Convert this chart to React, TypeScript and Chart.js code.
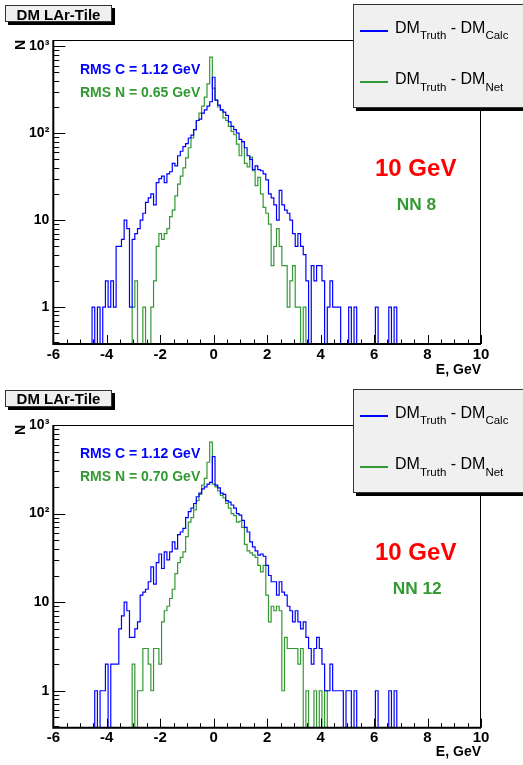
import React, { useEffect, useRef } from 'react';
import { Chart, registerables } from 'chart.js';

Chart.register(...registerables);

// ---------------- data ----------------
// Histograms: bin centres start at FIRST_BIN_CENTRE and step by BIN_WIDTH (GeV)
const FIRST_BIN_CENTRE = -4.6;
const BIN_WIDTH = 0.1;
const X_MIN = -6;
const X_MAX = 10;
const X_TICK_STEP = 2;
const Y_DECADE_LABELS = ['1', '10', '10\u00B2', '10\u00B3'];
const PANEL_TITLE = 'DM LAr-Tile';
const X_TITLE = 'E, GeV';
const Y_TITLE = 'N';
const ENERGY_LABEL = '10 GeV';
const NN_LABELS = ['NN 8', 'NN 12'];
const RMS_CALC = ['1.12', '1.12'];
const RMS_NET = ['0.65', '0.70'];

// Upper panel (NN 8): DM_Truth - DM_Calc
const calcNN8 = [
  0, 1, 0, 1, 0, 1, 2, 1, 2, 1, // -4.6 .. -3.7
  5, 5, 6, 10, 8, 1, 6, 7, 8, 10, // -3.6 .. -2.7
  12, 16, 18, 20, 15, 27, 30, 32, 27, 34, // -2.6 .. -1.7
  36, 45, 42, 55, 62, 70, 76, 88, 95, 110, // -1.6 .. -0.7
  140, 145, 170, 185, 205, 230, 440, 240, 210, 185, // -0.6 .. 0.3
  175, 160, 135, 120, 110, 100, 85, 80, 68, 55, // 0.4 .. 1.3
  50, 38, 42, 38, 37, 34, 29, 20, 18, 15, // 1.4 .. 2.3
  10, 22, 15, 13, 12, 10, 7, 5, 7, 5, // 2.4 .. 3.3
  4, 2, 0, 3, 2, 3, 3, 2, 0, 1, // 3.4 .. 4.3
  2, 1, 1, 1, 0, 0, 0, 1, 0, 1, // 4.4 .. 5.3
  0, 0, 0, 0, 0, 0, 0, 1, 0, 0, // 5.4 .. 6.3
  0, 0, 1, 0, 1, // 6.4 .. 6.8
];
// Upper panel (NN 8): DM_Truth - DM_Net
const netNN8 = [
  0, 0, 0, 0, 0, 0, 0, 0, 0, 0,
  0, 0, 0, 0, 0, 0, 1, 2, 0, 0,
  1, 0, 0, 1, 2, 5, 7, 6, 7, 8,
  11, 13, 19, 26, 32, 40, 52, 68, 88, 110,
  140, 170, 205, 260, 370, 750, 330, 240, 200, 185,
  150, 140, 120, 105, 96, 75, 55, 80, 45, 41,
  53, 37, 25, 31, 20, 14, 12, 9, 3, 5,
  8, 5, 3, 3, 1, 2, 3, 1, 1, 0,
  1, 0, 0, 0, 0, 0, 0, 0, 0, 0,
  0, 0, 0, 0, 0, 0, 0, 0, 0, 0,
  0, 0, 0, 0, 0, 0, 0, 0, 0, 0,
  0, 0, 0, 0, 0,
];
// Lower panel (NN 12): DM_Truth - DM_Calc
const calcNN12 = [
  0, 0, 1, 0, 1, 1, 2, 0, 2, 2,
  2, 5, 7, 10, 8, 4, 4, 5, 6, 12,
  13, 14, 17, 25, 16, 28, 35, 24, 37, 30,
  37, 48, 40, 58, 62, 68, 90, 105, 115, 130,
  155, 170, 190, 200, 215, 225, 440, 210, 195, 170,
  165, 140, 135, 125, 115, 100, 96, 84, 70, 62,
  48, 42, 38, 34, 35, 33, 26, 20, 17, 17,
  12, 17, 13, 12, 9, 8, 6, 8, 6, 5,
  6, 4, 3, 2, 3, 4, 3, 2, 1, 1,
  2, 1, 1, 1, 1, 0, 1, 1, 0, 1,
  0, 0, 0, 0, 0, 0, 0, 1, 0, 0,
  0, 0, 1, 0, 1,
];
// Lower panel (NN 12): DM_Truth - DM_Net
const netNN12 = [
  0, 0, 0, 0, 0, 0, 0, 0, 0, 0,
  0, 0, 0, 0, 0, 0, 2, 0, 1, 1,
  3, 3, 2, 1, 3, 3, 2, 6, 8, 9,
  11, 14, 21, 28, 32, 37, 55, 80, 90, 110,
  140, 165, 210, 250, 380, 640, 215, 200, 180, 160,
  150, 130, 115, 100, 95, 80, 82, 70, 45, 38,
  36, 34, 32, 26, 22, 26, 12, 6, 9, 8,
  9, 8, 1, 4, 3, 3, 3, 3, 2, 3,
  0, 1, 0, 0, 1, 0, 1, 0, 1, 0,
  0, 0, 0, 0, 0, 0, 0, 0, 0, 0,
  0, 0, 0, 0, 0, 0, 0, 0, 0, 0,
  0, 0, 0, 0, 0,
];

// ---------------- styles ----------------
const FONT = '"Liberation Sans", Arial, Helvetica, sans-serif';
const BLUE = '#0000ff';
const GREEN = '#339933';
const RED = '#ff0000';
const EMPTY = 1e-3; // drawn below the axis minimum so empty bins fall to the frame

function histPoints(counts: number[]) {
  const pts: { x: number; y: number }[] = [{ x: X_MIN, y: EMPTY }];
  counts.forEach((c, i) => {
    const left = FIRST_BIN_CENTRE - BIN_WIDTH / 2 + i * BIN_WIDTH;
    pts.push({ x: Math.round(left * 1000) / 1000, y: c > 0 ? c : EMPTY });
  });
  const end = FIRST_BIN_CENTRE - BIN_WIDTH / 2 + counts.length * BIN_WIDTH;
  pts.push({ x: Math.round(end * 1000) / 1000, y: EMPTY });
  pts.push({ x: X_MAX, y: EMPTY });
  return pts;
}

const frameTicks = {
  id: 'frameTicks',
  afterDatasetsDraw(chart: any) {
    const { ctx, chartArea: a } = chart;
    const xs = chart.scales.x;
    const ys = chart.scales.y;
    ctx.save();
    ctx.strokeStyle = '#000';
    ctx.lineWidth = 1;
    ctx.beginPath();
    ctx.moveTo(a.left, a.top + 0.5);
    ctx.lineTo(a.right, a.top + 0.5);
    ctx.moveTo(a.right - 0.5, a.top);
    ctx.lineTo(a.right - 0.5, a.bottom);
    for (let v = xs.min; v <= xs.max + 1e-9; v += 0.5) {
      const px = Math.round(xs.getPixelForValue(v)) + 0.5;
      const len = Math.abs(v % X_TICK_STEP) < 1e-9 ? 9 : 4.5;
      ctx.moveTo(px, a.bottom);
      ctx.lineTo(px, a.bottom - len);
    }
    const d0 = Math.floor(Math.log10(ys.min));
    const d1 = Math.ceil(Math.log10(ys.max));
    for (let d = d0; d <= d1; d++) {
      for (let k = 1; k <= 9; k++) {
        const v = k * Math.pow(10, d);
        if (v < ys.min || v > ys.max) continue;
        const py = Math.round(ys.getPixelForValue(v)) + 0.5;
        const len = k === 1 ? 12 : 6;
        ctx.moveTo(a.left, py);
        ctx.lineTo(a.left + len, py);
      }
    }
    ctx.stroke();
    ctx.lineWidth = 2;
    ctx.beginPath();
    ctx.moveTo(a.left, a.top);
    ctx.lineTo(a.left, a.bottom);
    ctx.lineTo(a.right, a.bottom);
    ctx.stroke();
    ctx.restore();
  },
};

type PanelProps = {
  top: number;
  calc: number[];
  net: number[];
  padTop: number;
  xAxisH: number;
  xTitlePad: number;
  yMin: number;
  yMax: number;
};

function HistPanel({ top, calc, net, padTop, xAxisH, xTitlePad, yMin, yMax }: PanelProps) {
  const ref = useRef<HTMLCanvasElement | null>(null);
  useEffect(() => {
    if (!ref.current) return;
    const chart = new Chart(ref.current, {
      type: 'line',
      data: {
        datasets: [
          {
            label: 'calc',
            data: histPoints(calc),
            borderColor: BLUE,
            borderWidth: 1.2,
            stepped: true,
            pointRadius: 0,
            fill: false,
          },
          {
            label: 'net',
            data: histPoints(net),
            borderColor: GREEN,
            borderWidth: 1.2,
            stepped: true,
            pointRadius: 0,
            fill: false,
          },
        ],
      },
      options: {
        animation: false,
        responsive: false,
        maintainAspectRatio: false,
        events: [],
        layout: { padding: { top: padTop, right: 42, bottom: 0, left: 0 } },
        plugins: { legend: { display: false }, tooltip: { enabled: false } },
        scales: {
          x: {
            type: 'linear',
            min: X_MIN,
            max: X_MAX,
            grid: { display: false, drawTicks: false, tickLength: 0 },
            border: { display: false },
            ticks: {
              stepSize: X_TICK_STEP,
              padding: 1.5,
              maxRotation: 0,
              autoSkip: false,
              color: '#000',
              font: { family: FONT, size: 15, weight: 'bold' },
            },
            title: {
              display: true,
              text: X_TITLE,
              align: 'end',
              color: '#000',
              font: { family: FONT, size: 14, weight: 'bold' },
              padding: { top: 0, bottom: xTitlePad },
            },
            afterFit: (s: any) => {
              s.height = xAxisH;
            },
          },
          y: {
            type: 'logarithmic',
            min: yMin,
            max: yMax,
            grid: { display: false, drawTicks: false, tickLength: 0 },
            border: { display: false },
            ticks: {
              autoSkip: false,
              padding: 4,
              color: '#000',
              font: { family: FONT, size: 14, weight: 'bold' },
              callback: (v: any) => {
                const l = Math.log10(Number(v));
                const r = Math.round(l);
                if (Math.abs(l - r) > 1e-6 || r < 0 || r >= Y_DECADE_LABELS.length) return '';
                return Y_DECADE_LABELS[r];
              },
            },
            title: {
              display: true,
              text: Y_TITLE,
              align: 'end',
              color: '#000',
              font: { family: FONT, size: 14, weight: 'bold' },
              padding: { top: 12.6, bottom: 0 },
            },
            afterFit: (s: any) => {
              s.width = 53.3;
            },
          },
        },
      } as any,
      plugins: [frameTicks],
    });
    return () => chart.destroy();
  }, []);
  return (
    <canvas
      ref={ref}
      width={523}
      height={382}
      style={{ position: 'absolute', left: 0, top, width: 523, height: 382, display: 'block' }}
    />
  );
}

function Txt({ x, base, size, color, bold = true, children }: any) {
  return (
    <div
      style={{
        position: 'absolute',
        left: x,
        top: base - 0.8465 * size,
        fontFamily: FONT,
        fontSize: size,
        lineHeight: `${size}px`,
        fontWeight: bold ? 700 : 400,
        color,
        whiteSpace: 'nowrap',
      }}
    >
      {children}
    </div>
  );
}

function TitleBox({ top, base }: { top: number; base: number }) {
  return (
    <>
      <div
        style={{
          position: 'absolute',
          left: 5,
          top,
          width: 107,
          height: 17,
          boxSizing: 'border-box',
          background: '#efefef',
          border: '1px solid #333',
          boxShadow: '3px 3px 0 0 #000',
        }}
      />
      <div
        style={{
          position: 'absolute',
          left: 5,
          width: 107,
          textAlign: 'center',
          top: base - 0.8465 * 15,
          fontFamily: FONT,
          fontSize: 15,
          lineHeight: '15px',
          fontWeight: 700,
          color: '#000',
          whiteSpace: 'nowrap',
        }}
      >
        {PANEL_TITLE}
      </div>
    </>
  );
}

function Sub({ children }: any) {
  return <span style={{ fontSize: 11.5, position: 'relative', top: 6.5 }}>{children}</span>;
}

function LegendBox({ top }: { top: number }) {
  const entries = [
    { color: BLUE, sub: 'Calc', line: 27, base: 29.3 },
    { color: GREEN, sub: 'Net', line: 78, base: 81 },
  ];
  return (
    <>
      <div
        style={{
          position: 'absolute',
          left: 353,
          top,
          width: 190,
          height: 104,
          boxSizing: 'border-box',
          background: '#f0f0f0',
          border: '1px solid #333',
          boxShadow: '3px 3px 0 0 #000',
        }}
      />
      {entries.map((e) => (
        <React.Fragment key={e.sub}>
          <div
            style={{
              position: 'absolute',
              left: 360,
              top: top + e.line - 1,
              width: 28,
              height: 2,
              background: e.color,
            }}
          />
          <Txt x={395} base={top + e.base} size={16} color="#000" bold={false}>
            DM<Sub>Truth</Sub> - DM<Sub>{e.sub}</Sub>
          </Txt>
        </React.Fragment>
      ))}
    </>
  );
}

function Annotations({ off, idx }: { off: number; idx: number }) {
  return (
    <>
      <Txt x={80} base={off + 73.5} size={14} color={BLUE}>
        RMS C = {RMS_CALC[idx]} GeV
      </Txt>
      <Txt x={80} base={off + 96.5} size={14} color={GREEN}>
        RMS N = {RMS_NET[idx]} GeV
      </Txt>
      <Txt x={375} base={off + 176.6} size={24} color={RED}>
        {ENERGY_LABEL}
      </Txt>
      <Txt x={idx === 0 ? 396.7 : 392.7} base={off + 211} size={17.3} color={GREEN}>
        {NN_LABELS[idx]}
      </Txt>
    </>
  );
}

export default function App() {
  return (
    <div
      style={{
        position: 'absolute',
        left: 0,
        top: 0,
        width: 523,
        height: 765,
        background: '#fff',
        overflow: 'hidden',
      }}
    >
      <HistPanel top={0} calc={calcNN8} net={netNN8} padTop={40} xAxisH={38} xTitlePad={3.6} yMin={0.376} yMax={1180} />
      <HistPanel top={383} calc={calcNN12} net={netNN12} padTop={42} xAxisH={37.3} xTitlePad={4.6} yMin={0.383} yMax={1000} />
      <TitleBox top={5} base={20} />
      <TitleBox top={390} base={404} />
      <LegendBox top={4} />
      <LegendBox top={389} />
      <Annotations off={0} idx={0} />
      <Annotations off={384} idx={1} />
    </div>
  );
}
